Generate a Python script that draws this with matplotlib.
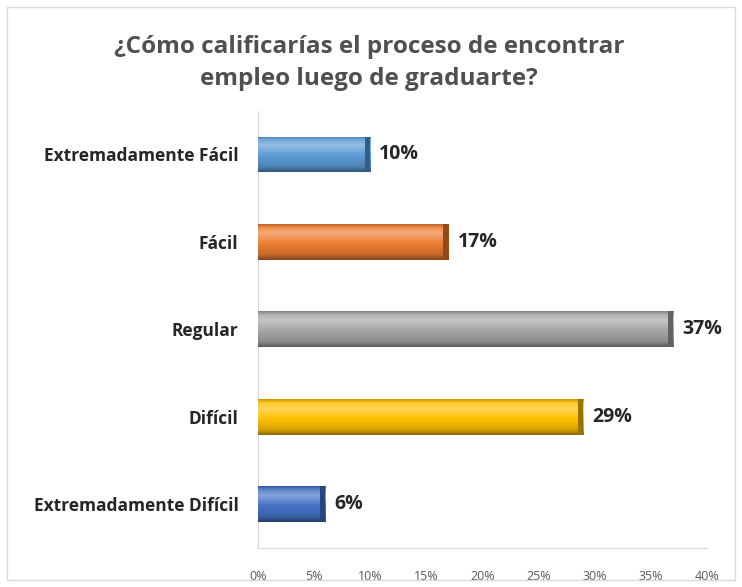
import numpy as np
import matplotlib
matplotlib.use('Agg')
from matplotlib import pyplot as plt
from matplotlib.colors import LinearSegmentedColormap, to_rgb
from matplotlib.patches import Rectangle

categories = ["Extremadamente Fácil", "Fácil", "Regular", "Difícil", "Extremadamente Difícil"]
values = [10, 17, 37, 29, 6]
colors = ["#5B9BD5", "#ED7D31", "#A5A5A5", "#FFC000", "#4472C4"]
xticks = [0, 5, 10, 15, 20, 25, 30, 35, 40]
title = "¿Cómo calificarías el proceso de encontrar\nempleo luego de graduarte?"

plt.rcParams['font.family'] = ['Open Sans', 'DejaVu Sans']

fig = plt.figure(figsize=(7.42, 5.87), dpi=100)
ax = fig.add_axes([0.3477, 0.0664, 0.605, 0.745])

ypos = np.arange(len(categories))[::-1]
bars = ax.barh(ypos, values, height=0.41, color=colors, edgecolor='none', zorder=2)


def shade(c, f):
    r = np.array(to_rgb(c))
    if f >= 0:
        return tuple(r + (1 - r) * f)
    return tuple(r * (1 + f))


for y, bar, c in zip(ypos, bars, colors):
    cmap = LinearSegmentedColormap.from_list(
        'g', [(0, shade(c, -0.45)), (0.15, shade(c, -0.15)), (0.45, c),
              (0.75, shade(c, 0.35)), (0.9, shade(c, 0.15)), (1, shade(c, -0.2))])
    x0, y0 = bar.get_x(), bar.get_y()
    w, h = bar.get_width(), bar.get_height()
    grad = np.linspace(0, 1, 64).reshape(-1, 1)
    im = ax.imshow(grad, cmap=cmap, aspect='auto', origin='lower',
                   extent=[x0, x0 + w, y0, y0 + h], zorder=3)
    im.set_clip_path(bar)
    # darker right end cap
    ax.add_patch(Rectangle((x0 + w - 0.5, y0), 0.5, h, color=shade(c, -0.4), zorder=4, lw=0))
    ax.text(x0 + w + 0.8, y, f"{int(w)}%", va='center', ha='left',
            fontsize=14, fontweight='bold', color='#262626')

ax.set_xlim(0, 40)
ax.set_ylim(-0.5, len(categories) - 0.5)
ax.set_xticks(xticks)
ax.set_xticklabels([f"{t}%" for t in xticks], fontsize=9, color='#595959')
ax.set_yticks(ypos)
ax.set_yticklabels(categories, fontsize=12.5, fontweight='bold', color='#262626')
ax.tick_params(axis='x', length=0, pad=16)
ax.tick_params(axis='y', length=0, pad=14)
for s in ['top', 'right']:
    ax.spines[s].set_visible(False)
ax.spines['left'].set_color('#D9D9D9')
ax.spines['bottom'].set_color('#D9D9D9')

fig.text(0.497, 0.892, title, ha='center', va='center', fontsize=17.5, fontweight='bold',
         color='#505050', linespacing=1.45)
fig.add_artist(Rectangle((0.01, 0.012), 0.98, 0.976, transform=fig.transFigure,
                         fill=False, edgecolor='#D9D9D9', lw=1))

fig.savefig("out.png", dpi=100)
